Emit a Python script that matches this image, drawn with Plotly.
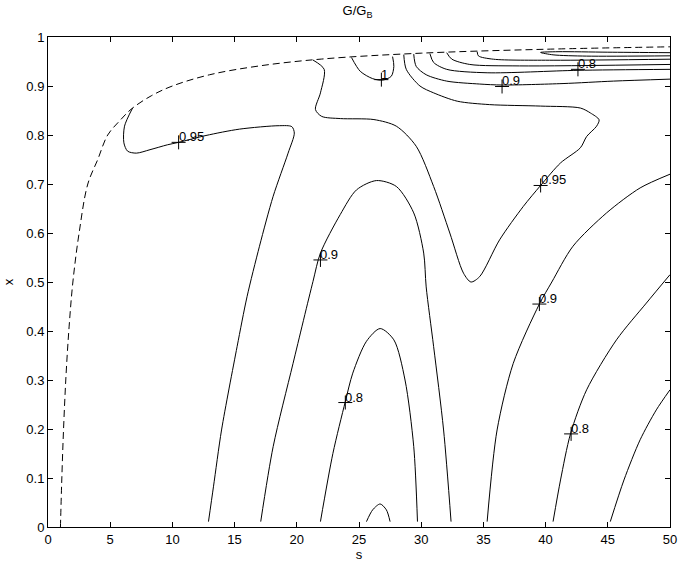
import plotly.graph_objects as go

# boundary (dashed)
bound_s = [1.0, 1.1, 1.25, 1.45, 1.7, 2.0, 2.5, 3.2, 4.0, 4.8, 5.8, 6.7, 8.3, 10.0, 13.0, 17.0, 22.0, 30.0, 40.0, 50.0]
bound_x = [0.0, 0.09, 0.2, 0.31, 0.41, 0.5, 0.6, 0.7, 0.75, 0.8, 0.83, 0.853, 0.88, 0.9, 0.923, 0.941, 0.955, 0.967, 0.975, 0.98]

# contour lines
c95_left_s = [6.8, 6.15, 6.1, 6.4, 7.1, 8.2, 9.6, 10.5, 12.7, 15.4, 18.6, 19.6, 19.8, 19.3, 18.1, 17.0, 16.0, 15.2, 13.95, 13.3, 12.9]
c95_left_x = [0.855, 0.818, 0.784, 0.767, 0.763, 0.77, 0.780, 0.785, 0.799, 0.812, 0.819, 0.817, 0.804, 0.763, 0.675, 0.573, 0.47, 0.368, 0.198, 0.082, 0.011]

c90_mid_s = [17.1, 18.1, 19.7, 21.3, 21.9, 23.5, 24.8, 26.4, 28.0, 29.4, 30.2, 30.4, 31.0, 31.8, 32.4]
c90_mid_x = [0.011, 0.164, 0.334, 0.501, 0.559, 0.638, 0.688, 0.707, 0.695, 0.641, 0.559, 0.49, 0.368, 0.198, 0.011]

c80_mid_s = [21.9, 22.9, 23.9, 24.5, 25.6, 26.7, 27.8, 28.7, 29.4, 29.7]
c80_mid_x = [0.011, 0.15, 0.256, 0.314, 0.379, 0.405, 0.382, 0.30, 0.164, 0.011]

c70_bump_s = [25.6, 26.1, 26.7, 27.2, 27.5]
c70_bump_x = [0.011, 0.035, 0.047, 0.035, 0.011]

c90_right_s = [35.3, 36.1, 37.4, 39.5, 40.5, 42.2, 44.9, 47.6, 50.0]
c90_right_x = [0.011, 0.198, 0.334, 0.455, 0.50, 0.573, 0.641, 0.692, 0.72]

c80_right_s = [40.6, 41.2, 42.0, 43.3, 45.7, 48.1, 50.0]
c80_right_x = [0.011, 0.096, 0.19, 0.28, 0.382, 0.457, 0.515]

c70_right_s = [45.2, 46.3, 47.6, 48.9, 50.0]
c70_right_x = [0.011, 0.096, 0.178, 0.239, 0.28]

c100_s = [24.4, 25.1, 26.1, 26.9, 27.6, 27.8, 27.7]
c100_x = [0.958, 0.93, 0.915, 0.912, 0.92, 0.94, 0.96]

c95_big_s = [21.3, 22.2, 21.9, 21.5, 22.0, 23.5, 26.2, 28.0, 29.6, 31.0, 32.3, 33.4, 34.0, 34.7, 36.3, 38.2, 39.6, 41.2,
             42.8, 43.3, 44.1, 44.3, 43.6, 42.8, 39.6, 35.5, 32.9, 31.0, 29.9, 28.8, 28.6]
c95_big_x = [0.953, 0.934, 0.886, 0.852, 0.838, 0.8335, 0.8315, 0.818, 0.777, 0.695, 0.60, 0.518, 0.50, 0.511, 0.586, 0.654,
             0.697, 0.743, 0.774, 0.797, 0.818, 0.831, 0.845, 0.855, 0.859, 0.862, 0.869, 0.886, 0.90, 0.934, 0.964]

c90_top_s = [29.4, 29.6, 30.4, 32.05, 34.7, 36.5, 41.4, 45.45, 50.0]
c90_top_x = [0.965, 0.94, 0.923, 0.91, 0.904, 0.902, 0.905, 0.91, 0.914]

c80_top_s = [30.7, 31.0, 32.05, 35.3, 42.6, 50.0]
c80_top_x = [0.966, 0.948, 0.934, 0.927, 0.932, 0.934]

c70_top_s = [32.05, 32.45, 33.9, 37.9, 50.0]
c70_top_x = [0.968, 0.955, 0.944, 0.941, 0.944]

c60_top_s = [34.5, 34.6, 35.8, 40.6, 50.0]
c60_top_x = [0.970, 0.9615, 0.9547, 0.9526, 0.9547]

c50_top_s = [50.0, 45.0, 41.0, 39.6, 40.6, 43.3, 50.0]
c50_top_x = [0.968, 0.969, 0.970, 0.9685, 0.9636, 0.961, 0.9616]

# clabel positions
label_s = [10.5, 21.9, 23.9, 26.8, 36.5, 42.6, 39.6, 39.5, 42.05]
label_x = [0.785, 0.545, 0.254, 0.913, 0.899, 0.934, 0.697, 0.455, 0.19]
label_text = ['0.95', '0.9', '0.8', '1', '0.9', '0.8', '0.95', '0.9', '0.8']

FONT = 'Liberation Sans, Arial, sans-serif'

fig = go.Figure()

fig.add_trace(go.Scatter(x=bound_s, y=bound_x, mode='lines', line_shape='spline',
                         line=dict(color='black', width=1, dash='7px,4px'), hoverinfo='skip'))

contours = [
    (c95_left_s, c95_left_x), (c90_mid_s, c90_mid_x), (c80_mid_s, c80_mid_x), (c70_bump_s, c70_bump_x),
    (c90_right_s, c90_right_x), (c80_right_s, c80_right_x), (c70_right_s, c70_right_x), (c100_s, c100_x),
    (c95_big_s, c95_big_x), (c90_top_s, c90_top_x), (c80_top_s, c80_top_x), (c70_top_s, c70_top_x),
    (c60_top_s, c60_top_x), (c50_top_s, c50_top_x),
]
for cs, cx in contours:
    fig.add_trace(go.Scatter(x=cs, y=cx, mode='lines', line_shape='spline',
                             line=dict(color='black', width=1, smoothing=0.8), hoverinfo='skip'))

# '+' marks of the contour labels
fig.add_trace(go.Scatter(
    x=label_s, y=label_x, mode='markers',
    marker=dict(symbol='cross-thin', size=10, line=dict(color='black', width=1)),
    hoverinfo='skip'))

for ls, lx, lt in zip(label_s, label_x, label_text):
    fig.add_annotation(x=ls, y=lx, text=lt, showarrow=False, xanchor='left', yanchor='bottom',
                       xshift=-1, yshift=-3, borderpad=0,
                       font=dict(family=FONT, size=13, color='black'))

axis_common = dict(showgrid=False, zeroline=False, showline=True, mirror='ticks', linecolor='black',
                   linewidth=1, ticks='inside', ticklen=5, tickcolor='black', automargin=False,
                   tickfont=dict(family=FONT, size=13, color='black'))

fig.update_layout(
    width=681, height=567,
    margin=dict(l=48, r=11, t=37, b=40),
    paper_bgcolor='white', plot_bgcolor='white',
    showlegend=False,
    hovermode=False,
    title=dict(text='G/G<sub>B</sub>', x=0.525, xanchor='center', y=0.99, yanchor='top',
               font=dict(family=FONT, size=13, color='black')),
    xaxis=dict(range=[0, 50], dtick=5, tick0=0,
               title=dict(text='s', standoff=3, font=dict(family=FONT, size=13, color='black')),
               **axis_common),
    yaxis=dict(range=[0, 1], dtick=0.1, tick0=0,
               title=dict(text='x', standoff=9, font=dict(family=FONT, size=13, color='black')),
               **axis_common),
)

# drop the page's default body margin so the figure sits at the window's corner
fig.write_html('out.html', config={'displayModeBar': False},
               post_script="document.body.style.margin='0';")
